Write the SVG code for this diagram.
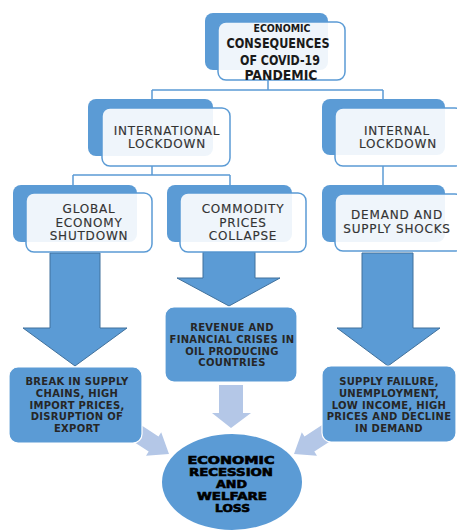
<svg xmlns="http://www.w3.org/2000/svg" width="457" height="530" viewBox="0 0 457 530">
  <style>
    .back { fill: #5b9bd5; }
    .front { fill: #ffffff; fill-opacity: 0.9; stroke: #5b9bd5; stroke-width: 1.5; }
    .solid { fill: #5b9bd5; stroke: #ffffff; stroke-width: 1.2; }
    .bigarrow { fill: #5b9bd5; stroke: #41719c; stroke-width: 1; }
    .lightarrow { fill: #b4c7e7; }
    .conn { fill: none; stroke: #5b9bd5; stroke-width: 1.5; }
    .lbl { font-family: "DejaVu Sans", "Liberation Sans", sans-serif; font-size: 12px; fill: #333333; stroke: #333333; stroke-width: 0.15; letter-spacing: 0.8px; text-anchor: middle; }
    .dlbl { font-family: "DejaVu Sans", "Liberation Sans", sans-serif; font-size: 10px; font-weight: bold; fill: #262626; letter-spacing: 0.3px; text-anchor: middle; }
    .title { font-family: "DejaVu Sans Condensed", "DejaVu Sans", "Liberation Sans", sans-serif; font-weight: bold; fill: #1a1a1a; text-anchor: middle; }
    .result { font-family: "DejaVu Sans", "Liberation Sans", sans-serif; font-weight: bold; font-size: 10.5px; fill: #000000; stroke: #000000; stroke-width: 0.6; text-anchor: middle; }
  </style>

  <!-- connectors -->
  <g id="connectors">
    <path class="conn" d="M268,80 V90 M152,90 H383 M152,90 V100 M383,90 V100"/>
    <path class="conn" d="M152,166 V175 M73,175 H230 M73,175 V185 M230,175 V185"/>
    <path class="conn" d="M383,166 V185"/>
    <!-- block arrows -->
    <path class="bigarrow" d="M50,253 H100 V328 H127 L75,366 L23,328 H50 Z"/>
    <path class="bigarrow" d="M203,252 H255 V278 H280 L229,306 L177,278 H203 Z"/>
    <path class="bigarrow" d="M362,253 H413 V328 H440 L388,366 L337,328 H362 Z"/>
    <path class="lightarrow" d="M219,385 H243 V413 H251 L231,428 L212,413 H219 Z"/>
    <path class="lightarrow" d="M133.3,420 L158.5,436.4 L161.2,432.3 L169,454 L146,455.7 L148.7,451.6 L123.5,435.2 Z"/>
    <path class="lightarrow" d="M329.7,420 L304.5,436.4 L301.8,432.3 L294,454 L317,455.7 L314.3,451.6 L339.5,435.2 Z"/>
  </g>

  <g id="covid-consequences">
    <rect class="back" x="205" y="13" width="123" height="57" rx="8"/>
    <rect class="front" x="218" y="22" width="127" height="58" rx="8"/>
    <text class="title" x="282" y="32" font-size="10" textLength="57" lengthAdjust="spacingAndGlyphs">ECONOMIC</text>
    <text class="title" x="278" y="48" font-size="13.5" textLength="103" lengthAdjust="spacingAndGlyphs">CONSEQUENCES</text>
    <text class="title" x="280" y="64.5" font-size="13.5" textLength="80" lengthAdjust="spacingAndGlyphs">OF COVID-19</text>
    <text class="title" x="281" y="80" font-size="13.5" textLength="73" lengthAdjust="spacingAndGlyphs">PANDEMIC</text>
  </g>

  <g id="international-lockdown">
    <rect class="back" x="88" y="99" width="125" height="57" rx="8"/>
    <rect class="front" x="102" y="108" width="128" height="58" rx="8"/>
    <text class="lbl" x="167" y="135">INTERNATIONAL</text>
    <text class="lbl" x="167" y="148">LOCKDOWN</text>
  </g>

  <g id="internal-lockdown">
    <rect class="back" x="322" y="99" width="123" height="56" rx="8"/>
    <rect class="front" x="335" y="108" width="128" height="58" rx="8"/>
    <text class="lbl" x="397" y="134.5">INTERNAL</text>
    <text class="lbl" x="398" y="147.5">LOCKDOWN</text>
  </g>

  <g id="global-shutdown">
    <rect class="back" x="13" y="185" width="124" height="57" rx="8"/>
    <rect class="front" x="26" y="193" width="126" height="59" rx="8"/>
    <text class="lbl" x="89" y="213">GLOBAL</text>
    <text class="lbl" x="89" y="226.5">ECONOMY</text>
    <text class="lbl" x="89" y="240">SHUTDOWN</text>
  </g>

  <g id="commodity-prices">
    <rect class="back" x="167" y="185" width="125" height="57" rx="8"/>
    <rect class="front" x="180" y="193" width="126" height="59" rx="8"/>
    <text class="lbl" x="243" y="213">COMMODITY</text>
    <text class="lbl" x="243" y="226.5">PRICES</text>
    <text class="lbl" x="243" y="240">COLLAPSE</text>
  </g>

  <g id="demand-supply">
    <rect class="back" x="322" y="185" width="123" height="57" rx="8"/>
    <rect class="front" x="335" y="194" width="128" height="57" rx="8"/>
    <text class="lbl" x="397" y="219">DEMAND AND</text>
    <text class="lbl" x="397" y="233">SUPPLY SHOCKS</text>
  </g>

  <g id="revenue-crises">
    <rect class="solid" x="165" y="307" width="132" height="75" rx="9"/>
    <text class="dlbl" x="232" y="331">REVENUE AND</text>
    <text class="dlbl" x="232" y="343">FINANCIAL CRISES IN</text>
    <text class="dlbl" x="232" y="355">OIL PRODUCING</text>
    <text class="dlbl" x="232" y="366">COUNTRIES</text>
  </g>

  <g id="supply-chains">
    <rect class="solid" x="9" y="367" width="133" height="76" rx="9"/>
    <text class="dlbl" x="77" y="385">BREAK IN SUPPLY</text>
    <text class="dlbl" x="77" y="397">CHAINS, HIGH</text>
    <text class="dlbl" x="77" y="408.5">IMPORT PRICES,</text>
    <text class="dlbl" x="77" y="420">DISRUPTION OF</text>
    <text class="dlbl" x="77" y="431.5">EXPORT</text>
  </g>

  <g id="supply-failure">
    <rect class="solid" x="322" y="366" width="134" height="76" rx="9"/>
    <text class="dlbl" x="389" y="385">SUPPLY FAILURE,</text>
    <text class="dlbl" x="389" y="397">UNEMPLOYMENT,</text>
    <text class="dlbl" x="389" y="408.5">LOW INCOME, HIGH</text>
    <text class="dlbl" x="389" y="420">PRICES AND DECLINE</text>
    <text class="dlbl" x="389" y="431.5">IN DEMAND</text>
  </g>

  <g id="recession">
    <ellipse cx="232" cy="482" rx="70" ry="48" fill="#5b9bd5"/>
    <text class="result" x="231" y="464" textLength="87" lengthAdjust="spacingAndGlyphs">ECONOMIC</text>
    <text class="result" x="231" y="476" textLength="84" lengthAdjust="spacingAndGlyphs">RECESSION</text>
    <text class="result" x="231.5" y="488" textLength="31" lengthAdjust="spacingAndGlyphs">AND</text>
    <text class="result" x="232" y="500" textLength="70" lengthAdjust="spacingAndGlyphs">WELFARE</text>
    <text class="result" x="232.5" y="512" textLength="35" lengthAdjust="spacingAndGlyphs">LOSS</text>
  </g>
</svg>
